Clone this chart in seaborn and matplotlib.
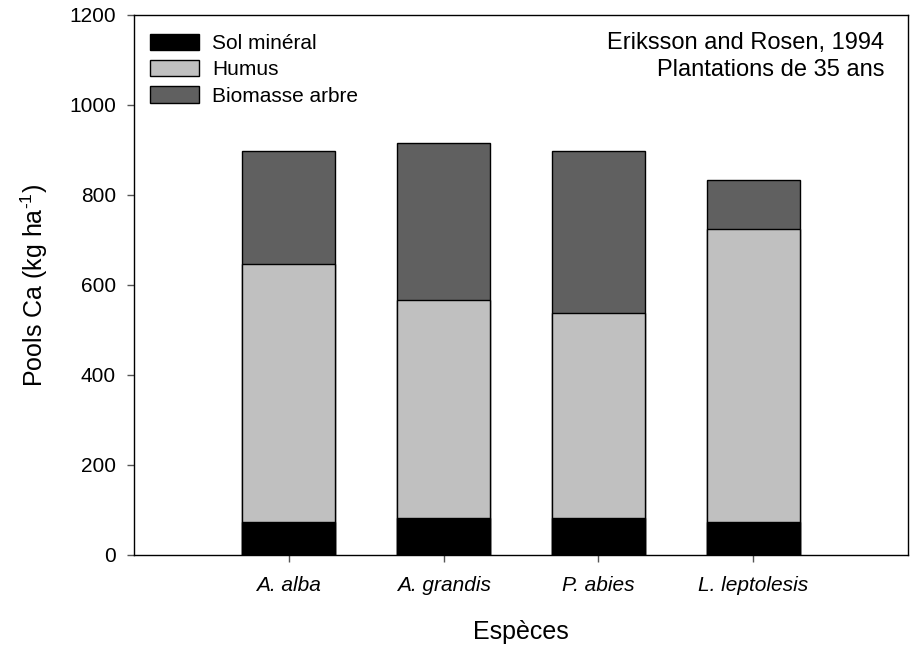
import numpy as np
import pandas as pd
import matplotlib
matplotlib.use('Agg')
import matplotlib.pyplot as plt
import seaborn as sns

# valeurs (kg/ha)
especes = ['A. alba', 'A. grandis', 'P. abies', 'L. leptolesis']
sol_mineral = [73, 82, 82, 73]
humus = [574, 485, 456, 651]
biomasse = [251, 348, 360, 110]

df = pd.DataFrame({'espece': especes, 'sol': sol_mineral,
                   'humus': humus, 'biomasse': biomasse})
# cumuls pour empiler les barres
df['c1'] = df['sol']
df['c2'] = df['sol'] + df['humus']
df['c3'] = df['c2'] + df['biomasse']

sns.set_style('ticks')
plt.rcParams['font.family'] = ['Liberation Sans', 'DejaVu Sans']
plt.rcParams['text.color'] = 'black'
plt.rcParams['axes.labelcolor'] = 'black'
plt.rcParams['xtick.color'] = 'black'
plt.rcParams['ytick.color'] = 'black'
plt.rcParams['mathtext.fontset'] = 'custom'
plt.rcParams['mathtext.rm'] = 'Liberation Sans'
plt.rcParams['mathtext.default'] = 'regular'

fig = plt.figure(figsize=(9.11, 6.46), dpi=100)
ax = fig.add_axes([0.1471, 0.1409, 0.8496, 0.8359])

couleurs = {'c3': '#606060', 'c2': '#c0c0c0', 'c1': '#000000'}
noms = {'c1': 'Sol minéral', 'c2': 'Humus', 'c3': 'Biomasse arbre'}
for col in ['c3', 'c2', 'c1']:
    sns.barplot(data=df, x='espece', y=col, color=couleurs[col], width=0.6,
                saturation=1, edgecolor='black', linewidth=1, ax=ax,
                label=noms[col])

ax.set_xlim(-1, 4)
ax.set_ylim(0, 1200)
ax.set_yticks(np.arange(0, 1201, 200))
ax.tick_params(axis='both', direction='out', length=5, width=1,
               labelsize=15, color='#555555')
ax.tick_params(axis='x', pad=10)
ax.tick_params(axis='y', pad=8)
for t in ax.get_xticklabels():
    t.set_fontstyle('italic')
for s in ax.spines.values():
    s.set_visible(True)
    s.set_linewidth(1)
    s.set_color('black')

ax.set_xlabel('Espèces', fontsize=18, labelpad=18)
ax.set_ylabel('Pools Ca (kg ha$^{\u20101}$)', fontsize=18, labelpad=14)

h, l = ax.get_legend_handles_labels()
ax.legend(h[::-1], l[::-1], loc='upper left', frameon=False, fontsize=15,
          handlelength=2.36, handleheight=0.82, labelspacing=0.34,
          handletextpad=0.62, borderaxespad=0, borderpad=0.4,
          bbox_to_anchor=(0.01, 0.981))

ax.text(0.969, 0.948, 'Eriksson and Rosen, 1994', transform=ax.transAxes,
        ha='right', va='center', fontsize=17)
ax.text(0.969, 0.898, 'Plantations de 35 ans', transform=ax.transAxes,
        ha='right', va='center', fontsize=17)

plt.savefig('out.png', dpi=100)
